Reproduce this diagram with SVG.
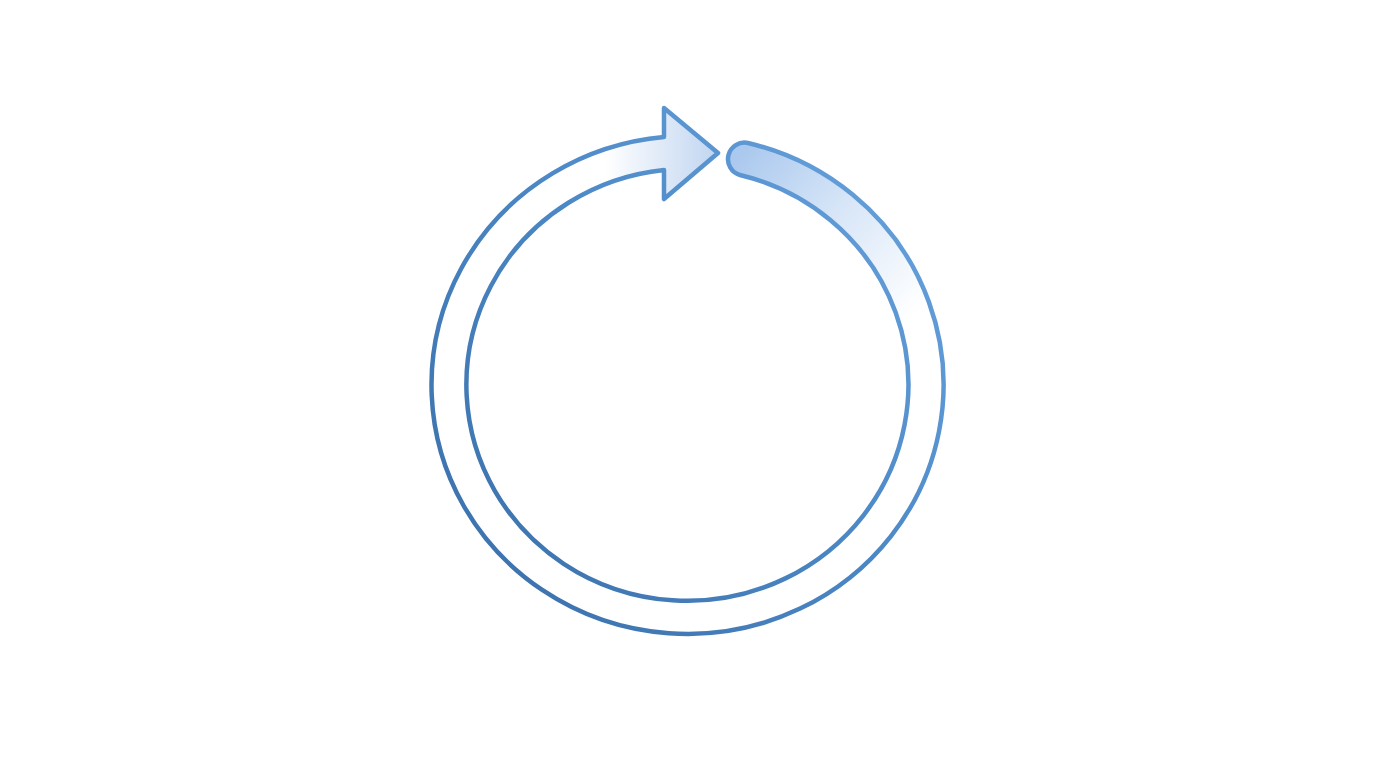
<svg xmlns="http://www.w3.org/2000/svg" width="1376" height="768" viewBox="0 0 1376 768">
  <defs>
    <linearGradient id="strokeGrad" gradientUnits="userSpaceOnUse" x1="430" y1="600" x2="940" y2="150">
      <stop offset="0" stop-color="#3a6fa9"/>
      <stop offset="0.5" stop-color="#4a86c4"/>
      <stop offset="1" stop-color="#6aa5df"/>
    </linearGradient>
    <linearGradient id="headGrad" gradientUnits="userSpaceOnUse" x1="605" y1="153" x2="718" y2="153">
      <stop offset="0" stop-color="#ffffff"/>
      <stop offset="1" stop-color="#c0d5f0"/>
    </linearGradient>
    <linearGradient id="stubGrad" gradientUnits="userSpaceOnUse" x1="738" y1="158" x2="910" y2="320">
      <stop offset="0" stop-color="#abc9ee"/>
      <stop offset="0.45" stop-color="#d6e5f7"/>
      <stop offset="1" stop-color="#ffffff"/>
    </linearGradient>
    <path id="band" d="M 748 143 A 256 249 0 1 1 664 137 L 664 108 L 718 153 L 664 199 L 664 170 A 221 216 0 1 0 740 175 A 16.5 16.5 0 0 1 748 143 Z"/>
    <clipPath id="bandClip">
      <use href="#band"/>
    </clipPath>
  </defs>
  <rect width="1376" height="768" fill="#ffffff"/>
  <g id="cycle-arrow">
    <use href="#band" fill="#ffffff"/>
    <g clip-path="url(#bandClip)">
      <rect x="600" y="95" width="122" height="115" fill="url(#headGrad)"/>
      <rect x="725" y="110" width="230" height="260" fill="url(#stubGrad)"/>
    </g>
    <use href="#band" fill="none" stroke="url(#strokeGrad)" stroke-width="4.5" stroke-linejoin="round"/>
  </g>
</svg>
